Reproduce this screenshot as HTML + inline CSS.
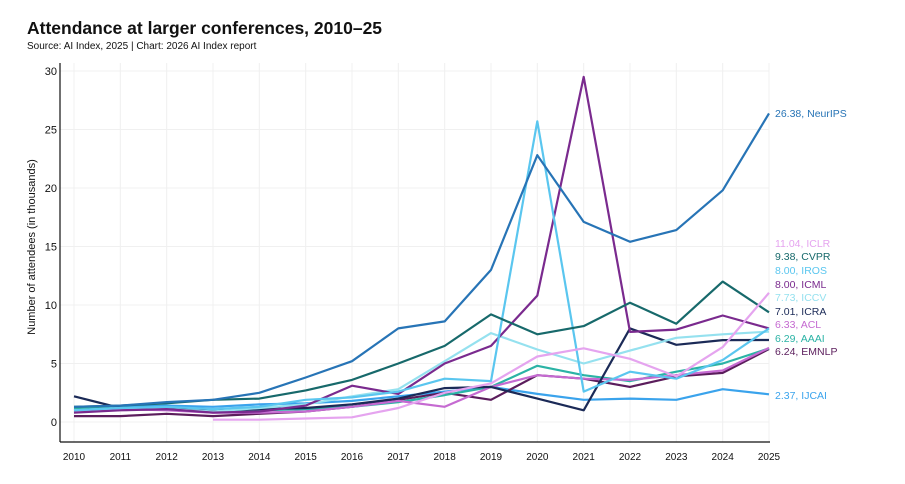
<!DOCTYPE html>
<html><head><meta charset="utf-8"><style>
body{margin:0;background:#fff;width:905px;height:479px;overflow:hidden;font-family:"Liberation Sans",sans-serif}
</style></head><body>
<svg id="chart" width="905" height="479" xmlns="http://www.w3.org/2000/svg">
<text x="27" y="34" font-size="17.5" font-weight="bold" fill="#111">Attendance at larger conferences, 2010–25</text>
<text x="27" y="49" font-size="10" fill="#111">Source: AI Index, 2025 | Chart: 2026 AI Index report</text>
<text transform="translate(35,247) rotate(-90)" text-anchor="middle" font-size="11" fill="#111">Number of attendees (in thousands)</text>
<g id="grid"></g><g id="lines"></g><g id="labels"></g><g id="axes"></g>
</svg>
<script>
const years=[2010,2011,2012,2013,2014,2015,2016,2017,2018,2019,2020,2021,2022,2023,2024,2025];
const yTicks=[0,5,10,15,20,25,30];
const names=["NeurIPS","ICLR","CVPR","IROS","ICML","ICCV","ICRA","ACL","AAAI","EMNLP","IJCAI"];
const colors=["#2774b6","#e5a4ef","#17696b","#5ac6ef","#7a2a8e","#95e1ef","#1b2a57","#c56ad1","#2bb3a5","#5b1d5c","#3aa3ec"];
const neurips=[1.3,1.4,1.7,1.9,2.5,3.8,5.2,8.0,8.6,13.0,22.8,17.1,15.4,16.4,19.8,26.38];
const iclr=[null,null,null,0.2,0.2,0.3,0.4,1.2,2.5,3.3,5.6,6.3,5.4,3.9,6.4,11.04];
const cvpr=[1.3,1.4,1.6,1.9,2.0,2.7,3.6,5.0,6.5,9.2,7.5,8.2,10.2,8.4,12.0,9.38];
const iros=[1.0,1.2,1.3,1.1,1.3,1.9,2.1,2.6,3.7,3.5,25.7,2.6,4.3,3.7,5.3,8.0];
const icml=[0.8,1.0,1.1,0.8,0.9,1.4,3.1,2.4,5.0,6.5,10.8,29.5,7.7,7.9,9.1,8.0];
const iccv=[1.0,1.2,1.1,0.9,1.2,1.5,2.2,2.8,5.2,7.6,6.2,5.0,6.1,7.2,7.5,7.73];
const icra=[2.2,1.2,1.1,1.0,1.1,1.2,1.5,2.0,2.9,3.0,2.0,1.0,8.0,6.6,7.0,7.01];
const acl=[1.0,1.1,1.0,0.8,0.8,0.9,1.3,1.8,1.3,3.0,4.0,3.7,3.6,4.0,4.4,6.33];
const aaai=[1.2,1.2,1.2,0.9,1.0,1.1,1.3,1.7,2.3,3.0,4.8,4.0,3.5,4.3,5.0,6.29];
const emnlp=[0.5,0.5,0.7,0.5,0.7,0.9,1.3,1.9,2.5,1.9,4.0,3.7,3.0,3.9,4.2,6.24];
const ijcai=[1.2,1.3,1.4,1.3,1.5,1.6,1.8,2.2,2.6,3.0,2.4,1.9,2.0,1.9,2.8,2.37];
const labelY=[113,243,256,270,284,297,311,324,338,351,395];
const series=[neurips,iclr,cvpr,iros,icml,iccv,icra,acl,aaai,emnlp,ijcai];
const NS="http://www.w3.org/2000/svg";
const x=y=>74+(y-2010)*(769-74)/15;
const yv=v=>422-v*(422-71)/30;
function mk(t,a,p){const e=document.createElementNS(NS,t);for(const k in a)e.setAttribute(k,a[k]);p.appendChild(e);return e;}
const grid=document.getElementById('grid'),lines=document.getElementById('lines'),labels=document.getElementById('labels'),axes=document.getElementById('axes');
years.forEach(yr=>{
 const g=mk('line',{x1:x(yr),x2:x(yr),y1:63,y2:442,stroke:'#f0f0f0','stroke-width':1},grid);
 
 
 const t=mk('text',{x:x(yr),y:460,'text-anchor':'middle','font-size':10,fill:'#111'},axes);
 t.textContent=yr;
 
 
});
yTicks.forEach(v=>{
 const g=mk('line',{x1:60,x2:769,y1:yv(v),y2:yv(v),stroke:'#f0f0f0','stroke-width':1},grid);
 
 
 const t=mk('text',{x:57,y:yv(v)+4,'text-anchor':'end','font-size':11,fill:'#111'},axes);
 t.textContent=v;
 
 
});
const ya=mk('line',{x1:60,x2:60,y1:63,y2:442,stroke:'#111','stroke-width':1.2},axes);


const xa=mk('line',{x1:60,x2:770,y1:442,y2:442,stroke:'#111','stroke-width':1.2},axes);


const order=[10,9,8,7,6,5,4,3,2,1,0];
order.forEach(i=>{
 const d=series[i];let p='';
 d.forEach((v,j)=>{if(v==null)return;p+=(p?'L':'M')+x(years[j]).toFixed(1)+','+yv(v).toFixed(1);});
 const l=mk('path',{d:p,fill:'none',stroke:colors[i],'stroke-width':2.2,'stroke-linejoin':'round'},lines);
 
 
});
names.forEach((n,i)=>{
 const d=series[i];
 const t=mk('text',{x:775,y:labelY[i]+4,'font-size':10.5,fill:colors[i]},labels);
 t.textContent=d[d.length-1].toFixed(2)+', '+n;
 
 
});
</script>
</body></html>
